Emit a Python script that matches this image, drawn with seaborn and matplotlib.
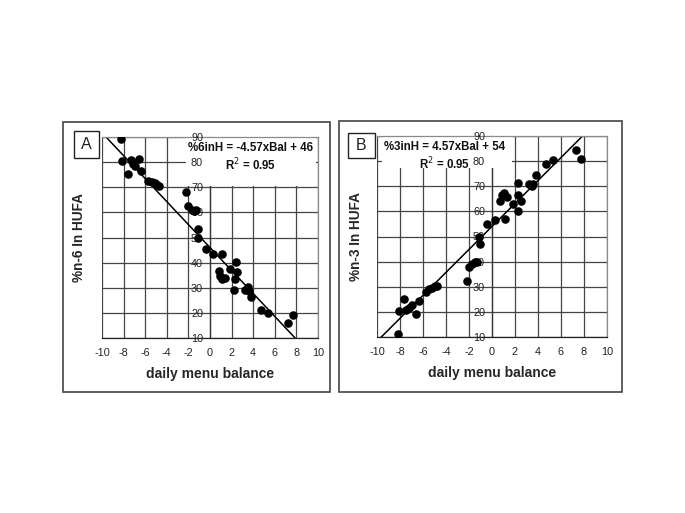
import numpy as np
import seaborn as sns
import matplotlib.pyplot as plt
from matplotlib.patches import Rectangle

# Panel A : %n-6 in HUFA vs daily menu balance
bal_a = [-8.2, -8.15, -7.6, -7.3, -7.1, -6.9, -6.55, -6.4, -5.7, -5.4, -5.1, -4.9, -4.7,
         -2.25, -2.05, -1.7, -1.45, -1.3, -1.1, -1.1, -0.4, 0.3, 1.15, 0.85, 0.95, 1.15,
         1.4, 1.85, 2.4, 2.3, 2.5, 2.25, 3.2, 3.5, 3.65, 3.8, 4.75, 5.4, 7.2, 7.7]
hufa_a = [89.3, 80.4, 75.3, 80.7, 79.3, 78.3, 81.3, 76.3, 72.4, 71.9, 71.6, 70.9, 70.3,
          68.3, 62.7, 61.0, 60.4, 61.0, 53.3, 50.0, 45.3, 43.3, 43.3, 36.7, 34.7, 33.3,
          34.0, 37.3, 40.3, 33.3, 36.3, 29.1, 29.1, 30.3, 28.7, 26.3, 21.1, 20.0, 16.0, 19.1]

# Panel B : %n-3 in HUFA vs daily menu balance
bal_b = [-8.17, -8.1, -7.65, -7.45, -7.2, -7.0, -6.6, -6.35, -5.7, -5.5, -5.2, -5.0, -4.8,
         -2.2, -2.0, -1.7, -1.5, -1.3, -1.1, -1.07, -0.43, 0.23, 1.1, 0.67, 0.9, 1.07,
         1.3, 1.8, 2.3, 2.3, 2.5, 2.3, 3.2, 3.45, 3.6, 3.8, 4.7, 5.3, 7.3, 7.7]
hufa_b = [11.3, 20.3, 25.3, 20.7, 21.6, 22.7, 19.3, 24.3, 28.0, 29.1, 29.6, 30.1, 30.1,
          32.3, 38.0, 38.9, 40.0, 40.0, 50.0, 46.9, 54.9, 56.7, 57.1, 64.0, 66.4, 67.3,
          65.9, 62.9, 71.2, 66.7, 64.0, 60.3, 70.9, 70.0, 70.9, 74.3, 78.9, 80.3, 84.3, 80.9]

# trend lines given on the chart
slope_a, icpt_a = -4.57, 46
slope_b, icpt_b = 4.57, 54
eq_a = "%6inH = -4.57xBal + 46"
eq_b = "%3inH = 4.57xBal + 54"
r2_text = "R$^2$ = 0.95"

x_ticks = list(range(-10, 11, 2))
y_ticks = list(range(10, 91, 10))

sns.set_theme(style="white")
plt.rcParams["font.family"] = ["Liberation Sans", "DejaVu Sans"]
plt.rcParams["axes.unicode_minus"] = False

W, H = 685, 513
fig = plt.figure(figsize=(W / 100, H / 100), dpi=100)


def px_rect(x0, y0, x1, y1):
    # pixel box -> figure fraction (left, bottom, width, height)
    return (x0 / W, 1 - y1 / H, (x1 - x0) / W, (y1 - y0) / H)


def panel(ax, bal, hufa, slope, icpt, ylabel, eq, box, txt_x, ylab_x):
    ax.set_xlim(-10, 10)
    ax.set_ylim(10, 90)
    ax.set_axisbelow(False)
    # grid lines
    ax.vlines(x_ticks, 10, 90, colors="#454545", lw=0.9, zorder=0.4)
    ax.hlines(y_ticks, -10, 10, colors="#454545", lw=0.9, zorder=0.4)
    # white label box behind the equation
    ax.add_patch(Rectangle((box[0], box[2]), box[1] - box[0], box[3] - box[2],
                           fc="white", ec="none", zorder=1))
    sns.scatterplot(x=bal, y=hufa, ax=ax, color="black", s=38, linewidth=0, zorder=3)
    xf = np.array([-10, 10])
    sns.lineplot(x=xf, y=slope * xf + icpt, ax=ax, color="black", lw=1.1, zorder=2)
    ax.text(txt_x, 85.5, eq, ha="center", va="center", fontsize=8.3,
            fontweight="bold", color="#111111", zorder=4)
    ax.text(txt_x, 79.0, r2_text, ha="center", va="center", fontsize=8.3,
            fontweight="bold", color="#111111", zorder=4)

    ax.set_xticks(x_ticks)
    ax.set_yticks(y_ticks)
    ax.spines["left"].set_position(("data", 0))
    ax.spines["left"].set_zorder(0.8)
    ax.spines["left"].set_color("#333333")
    ax.spines["bottom"].set_color("#222222")
    ax.spines["top"].set_color("#8a8a8a")
    ax.spines["right"].set_color("#8a8a8a")
    for s in ax.spines.values():
        s.set_linewidth(0.9)
    ax.tick_params(axis="both", direction="out", length=3, width=0.8,
                   labelsize=7.8, labelcolor="#222222", color="#333333", pad=2)
    ax.tick_params(axis="x", pad=4)
    ax.set_xlabel("daily menu balance", fontsize=10, fontweight="bold", labelpad=7)
    ax.set_ylabel(ylabel, fontsize=9.8, fontweight="bold")
    ax.yaxis.set_label_coords(ylab_x, 0.5)


ax_a = fig.add_axes(px_rect(102, 137, 318, 338))
ax_b = fig.add_axes(px_rect(377, 136, 607, 337))

panel(ax_a, bal_a, hufa_a, slope_a, icpt_a, "%n-6 In HUFA", eq_a,
      (-2.2, 9.85, 70.6, 89.6), 3.8, -0.075)
panel(ax_b, bal_b, hufa_b, slope_b, icpt_b, "%n-3 In HUFA", eq_b,
      (-9.6, 1.7, 77.3, 89.6), -4.1, -0.062)

# outer panel frames and letter boxes
for x0, y0, x1, y1 in [(63, 122, 330, 392), (339, 121, 622, 392)]:
    fig.add_artist(Rectangle(px_rect(x0, y0, x1, y1)[:2], (x1 - x0) / W, (y1 - y0) / H,
                             transform=fig.transFigure, fill=False, ec="#444444", lw=1.2))
for (x0, y0, x1, y1), letter in [((74, 131, 99, 158), "A"), ((348, 133, 375, 158), "B")]:
    fig.add_artist(Rectangle(px_rect(x0, y0, x1, y1)[:2], (x1 - x0) / W, (y1 - y0) / H,
                             transform=fig.transFigure, fc="white", ec="#222222", lw=1.0))
    fig.text((x0 + x1) / 2 / W, 1 - (y0 + y1) / 2 / H, letter, ha="center", va="center",
             fontsize=11.5, color="#222222")

fig.savefig("out.png", dpi=100)
